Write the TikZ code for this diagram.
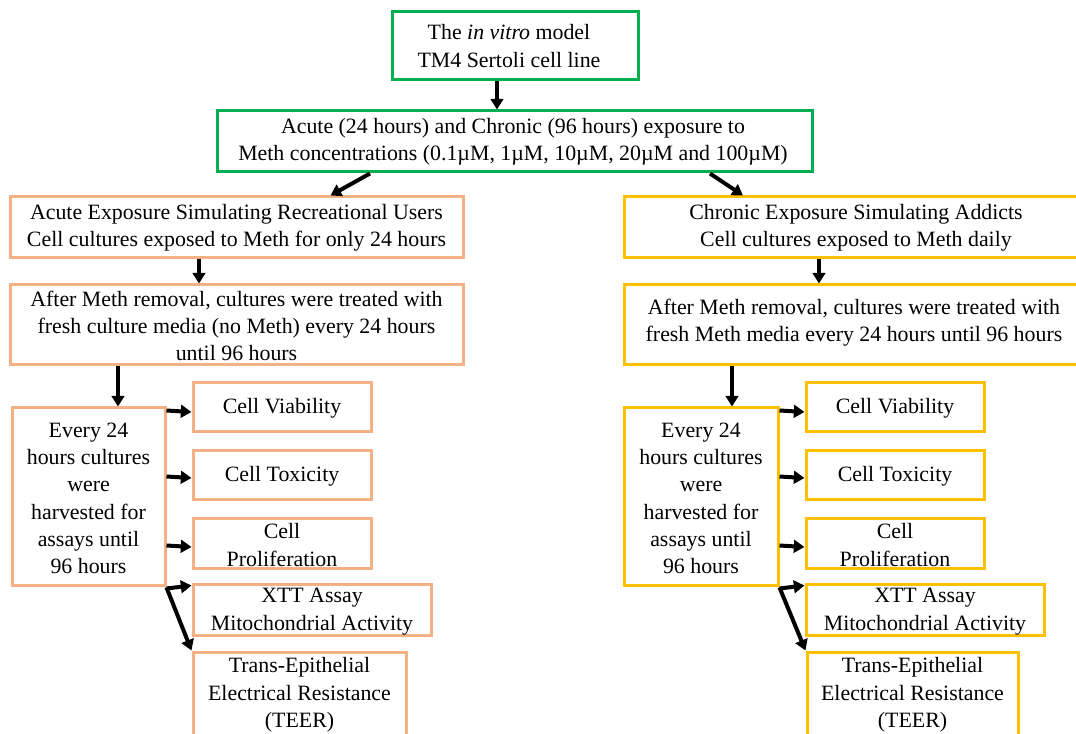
\documentclass[tikz,border=0pt]{standalone}
\usepackage{fontspec}
\setmainfont{Liberation Serif}
\usetikzlibrary{arrows.meta,calc}
\definecolor{grn}{HTML}{00B050}
\definecolor{org}{HTML}{F4B183}
\definecolor{yel}{HTML}{FFC000}
\tikzset{
  bx/.style n args={3}{draw=#1, line width=2.25pt, inner sep=0pt,
    minimum width={#2*0.75pt}, minimum height={#3*0.75pt}},
  txt/.style={font=\fontsize{16.4}{20.5}\selectfont, align=center, inner sep=0pt},
  arr/.style={line width=3pt, -{Triangle[length=8pt,width=9.5pt]}},
}
\begin{document}
\begin{tikzpicture}[x=0.75pt,y=-0.75pt]
\useasboundingbox (0,0) rectangle (1076,734);
\clip (0,0) rectangle (1076,734);
% top
\node[bx={grn}{246}{68}] (top) at (515,46) {};
\node[txt] (ttop) at (509,46) {The \textit{in vitro} model\\TM4 Sertoli cell line};
\node[bx={grn}{595}{61}] (sec) at (514.5,141.5) {};
\node[txt] (tsec) at (513,141.5) {Acute (24 hours) and Chronic (96 hours) exposure to\\Meth concentrations (0.1µM, 1µM, 10µM, 20µM and 100µM)};
% left column
\node[bx={org}{453}{61}] (L1) at (236.5,227.5) {};
\node[txt] (tL1) at (236.5,227.5) {Acute Exposure Simulating Recreational Users\\Cell cultures exposed to Meth for only 24 hours};
\node[bx={org}{453}{80}] (L2) at (236.5,325) {};
\node[txt] (tL2) at (236.5,326) {After Meth removal, cultures were treated with\\fresh culture media (no Meth) every 24 hours\\until 96 hours};
\node[bx={org}{153}{178}] (LE) at (88.5,497) {};
\node[txt] (tLE) at (88.5,498.5) {Every 24\\hours cultures\\were\\harvested for\\assays until\\96 hours};
\node[bx={org}{178}{49}] (LV) at (282,407.5) {};
\node[txt] (tLV) at (282,408) {Cell Viability};
\node[bx={org}{178}{49}] (LT) at (282,475.5) {};
\node[txt] (tLT) at (282,476) {Cell Toxicity};
\node[bx={org}{178}{50}] (LP) at (282,544) {};
\node[txt] (tLP) at (282,545) {Cell\\Proliferation};
\node[bx={org}{238}{50}] (LX) at (312,610) {};
\node[txt] (tLX) at (312,611.5) {XTT Assay\\Mitochondrial Activity};
\node[bx={org}{213}{118}] (LR) at (299.5,711) {};
\node[txt] (tLR) at (299.5,695) {Trans-Epithelial\\Electrical Resistance\\(TEER)};
% right column
\node[bx={yel}{462}{61}] (R1) at (855,227.5) {};
\node[txt] (tR1) at (856,227.5) {Chronic Exposure Simulating Addicts\\Cell cultures exposed to Meth daily};
\node[bx={yel}{462}{80}] (R2) at (855,325) {};
\node[txt] (tR2) at (854,322.5) {After Meth removal, cultures were treated with\\fresh Meth media every 24 hours until 96 hours};
\node[bx={yel}{154}{178}] (RE) at (701,497) {};
\node[txt] (tRE) at (701,498.5) {Every 24\\hours cultures\\were\\harvested for\\assays until\\96 hours};
\node[bx={yel}{178}{49}] (RV) at (895,407.5) {};
\node[txt] (tRV) at (895,408) {Cell Viability};
\node[bx={yel}{178}{49}] (RT) at (895,475.5) {};
\node[txt] (tRT) at (895,476) {Cell Toxicity};
\node[bx={yel}{178}{50}] (RP) at (895,544) {};
\node[txt] (tRP) at (895,545) {Cell\\Proliferation};
\node[bx={yel}{238}{50}] (RX) at (925,610) {};
\node[txt] (tRX) at (925,611.5) {XTT Assay\\Mitochondrial Activity};
\node[bx={yel}{211}{118}] (RR) at (912.5,711) {};
\node[txt] (tRR) at (912.5,695) {Trans-Epithelial\\Electrical Resistance\\(TEER)};
% arrows
\draw[arr] ($(top.south)+(-18,0)$) -- ($(sec.north)+(-17.5,0)$);
\draw[arr] ($(sec.south)+(-144.5,0)$) -- ($(L1.north)+(94,0)$);
\draw[arr] ($(sec.south)+(195.5,0)$) -- ($(R1.north)+(-112,0)$);
\draw[arr] ($(L1.south)+(-37.5,0)$) -- ($(L2.north)+(-37.5,0)$);
\draw[arr] ($(L2.south)+(-118.5,0)$) -- ($(LE.north)+(29.5,0)$);
\draw[arr] ($(R1.south)+(-36,0)$) -- ($(R2.north)+(-36,0)$);
\draw[arr] ($(R2.south)+(-123,0)$) -- ($(RE.north)+(31,0)$);
\draw[arr] ($(LE.north east)+(0,4)$) -- ($(LV.west)+(0,4.5)$);
\draw[arr] ($(LE.north east)+(0,70)$) -- ($(LT.west)+(0,2.5)$);
\draw[arr] ($(LE.north east)+(0,139)$) -- ($(LP.west)+(0,3)$);
\draw[arr] ($(LE.south east)+(0,1)$) -- ($(LX.north west)+(0,2)$);
\draw[arr] (LE.south east) -- (LR.north west);
\draw[arr] ($(RE.north east)+(0,4)$) -- ($(RV.west)+(0,4.5)$);
\draw[arr] ($(RE.north east)+(0,70)$) -- ($(RT.west)+(0,2.5)$);
\draw[arr] ($(RE.north east)+(0,139)$) -- ($(RP.west)+(0,3)$);
\draw[arr] ($(RE.south east)+(0,1)$) -- ($(RX.north west)+(0,2)$);
\draw[arr] (RE.south east) -- (RR.north west);
\end{tikzpicture}
\end{document}
